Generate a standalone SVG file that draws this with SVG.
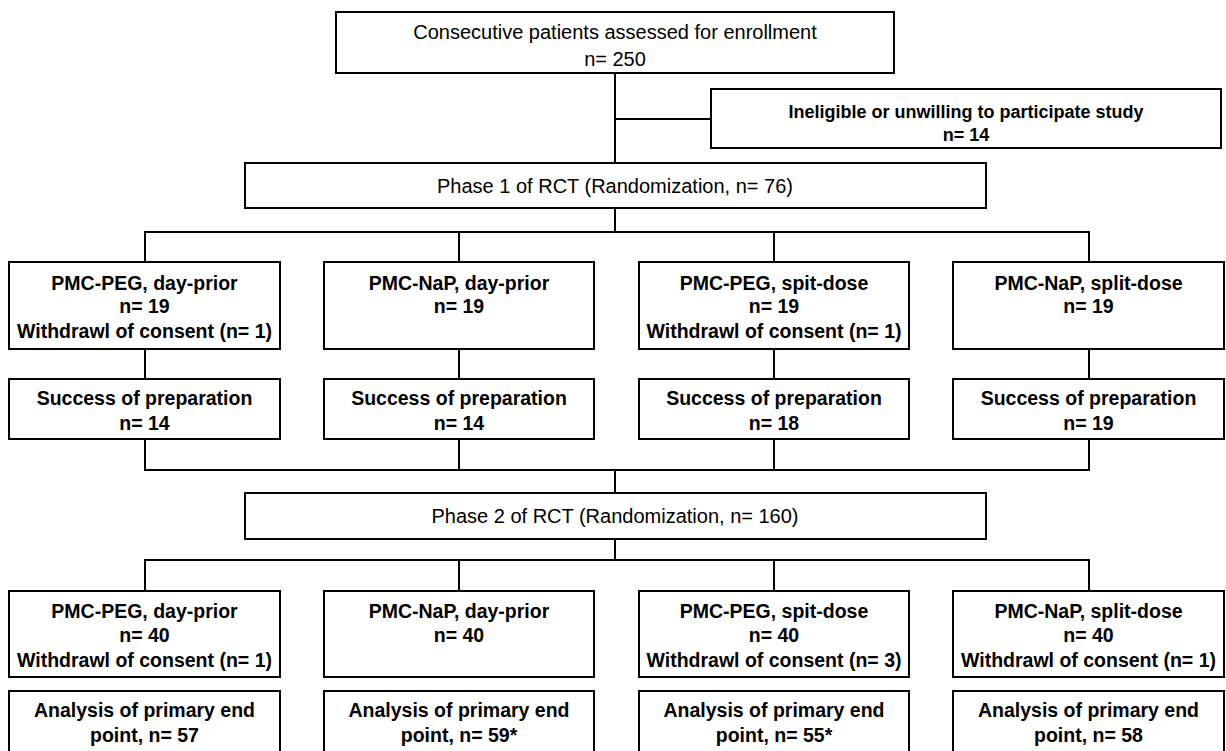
<svg xmlns="http://www.w3.org/2000/svg" width="1226" height="751" viewBox="0 0 1226 751">
<style>
  .box { fill: #fff; stroke: #000; stroke-width: 2; }
  .ln { fill: none; stroke: #000; stroke-width: 2; }
  text { font-family: "Liberation Sans", Arial, sans-serif; fill: #000; text-anchor: middle; }
  .reg { font-size: 20px; }
  .b18 { font-size: 18px; font-weight: bold; }
  .b { font-size: 19.5px; font-weight: bold; }
</style>
<rect width="1226" height="751" fill="#fff"/>
<g id="connectors" class="ln">
  <path d="M615 73 V163"/>
  <path d="M615 119 H711"/>
  <path d="M615 208 V232"/>
  <path d="M145 262 V232 H1089 V262"/>
  <path d="M459 232 V262"/>
  <path d="M774 232 V262"/>
  <path d="M145 349 V379"/>
  <path d="M459 349 V379"/>
  <path d="M774 349 V379"/>
  <path d="M1089 349 V379"/>
  <path d="M145 439 V470 H1089 V439"/>
  <path d="M459 439 V470"/>
  <path d="M774 439 V470"/>
  <path d="M615 470 V493"/>
  <path d="M615 539 V560"/>
  <path d="M145 591 V560 H1089 V591"/>
  <path d="M459 560 V591"/>
  <path d="M774 560 V591"/>
</g>
<g id="assessed">
  <rect class="box" x="336" y="12" width="558" height="61"/>
  <text class="reg" x="615" y="39">Consecutive patients assessed for enrollment</text>
  <text class="reg" x="615" y="66">n= 250</text>
</g>
<g id="ineligible">
  <rect class="box" x="711" y="89" width="510" height="59"/>
  <text class="b18" x="966" y="118">Ineligible or unwilling to participate study</text>
  <text class="b18" x="966" y="141">n= 14</text>
</g>
<g id="phase1">
  <rect class="box" x="245" y="163" width="741" height="45"/>
  <text class="reg" x="615" y="193">Phase 1 of RCT (Randomization, n= 76)</text>
</g>
<g id="p1-peg-dayprior">
  <rect class="box" x="9" y="262" width="271" height="87"/>
  <text class="b" x="144.5" y="290">PMC-PEG, day-prior</text>
  <text class="b" x="144.5" y="313">n= 19</text>
  <text class="b" x="144.5" y="338">Withdrawl of consent (n= 1)</text>
</g>
<g id="p1-nap-dayprior">
  <rect class="box" x="324" y="262" width="270" height="87"/>
  <text class="b" x="459" y="290">PMC-NaP, day-prior</text>
  <text class="b" x="459" y="313">n= 19</text>
</g>
<g id="p1-peg-split">
  <rect class="box" x="639" y="262" width="270" height="87"/>
  <text class="b" x="774" y="290">PMC-PEG, spit-dose</text>
  <text class="b" x="774" y="313">n= 19</text>
  <text class="b" x="774" y="338">Withdrawl of consent (n= 1)</text>
</g>
<g id="p1-nap-split">
  <rect class="box" x="953" y="262" width="271" height="87"/>
  <text class="b" x="1088.5" y="290">PMC-NaP, split-dose</text>
  <text class="b" x="1088.5" y="313">n= 19</text>
</g>
<g id="success1">
  <rect class="box" x="9" y="379" width="271" height="60"/>
  <text class="b" x="144.5" y="405">Success of preparation</text>
  <text class="b" x="144.5" y="430">n= 14</text>
</g>
<g id="success2">
  <rect class="box" x="324" y="379" width="270" height="60"/>
  <text class="b" x="459" y="405">Success of preparation</text>
  <text class="b" x="459" y="430">n= 14</text>
</g>
<g id="success3">
  <rect class="box" x="639" y="379" width="270" height="60"/>
  <text class="b" x="774" y="405">Success of preparation</text>
  <text class="b" x="774" y="430">n= 18</text>
</g>
<g id="success4">
  <rect class="box" x="953" y="379" width="271" height="60"/>
  <text class="b" x="1088.5" y="405">Success of preparation</text>
  <text class="b" x="1088.5" y="430">n= 19</text>
</g>
<g id="phase2">
  <rect class="box" x="245" y="493" width="741" height="46"/>
  <text class="reg" x="615" y="523">Phase 2 of RCT (Randomization, n= 160)</text>
</g>
<g id="p2-peg-dayprior">
  <rect class="box" x="9" y="591" width="271" height="86"/>
  <text class="b" x="144.5" y="618">PMC-PEG, day-prior</text>
  <text class="b" x="144.5" y="642">n= 40</text>
  <text class="b" x="144.5" y="667">Withdrawl of consent (n= 1)</text>
</g>
<g id="p2-nap-dayprior">
  <rect class="box" x="324" y="591" width="270" height="86"/>
  <text class="b" x="459" y="618">PMC-NaP, day-prior</text>
  <text class="b" x="459" y="642">n= 40</text>
</g>
<g id="p2-peg-split">
  <rect class="box" x="639" y="591" width="270" height="86"/>
  <text class="b" x="774" y="618">PMC-PEG, spit-dose</text>
  <text class="b" x="774" y="642">n= 40</text>
  <text class="b" x="774" y="667">Withdrawl of consent (n= 3)</text>
</g>
<g id="p2-nap-split">
  <rect class="box" x="953" y="591" width="271" height="86"/>
  <text class="b" x="1088.5" y="618">PMC-NaP, split-dose</text>
  <text class="b" x="1088.5" y="642">n= 40</text>
  <text class="b" x="1088.5" y="667">Withdrawl of consent (n= 1)</text>
</g>
<g id="analysis1">
  <rect class="box" x="9" y="691" width="271" height="72"/>
  <text class="b" x="144.5" y="717">Analysis of primary end</text>
  <text class="b" x="144.5" y="742">point, n= 57</text>
</g>
<g id="analysis2">
  <rect class="box" x="324" y="691" width="270" height="72"/>
  <text class="b" x="459" y="717">Analysis of primary end</text>
  <text class="b" x="459" y="742">point, n= 59*</text>
</g>
<g id="analysis3">
  <rect class="box" x="639" y="691" width="270" height="72"/>
  <text class="b" x="774" y="717">Analysis of primary end</text>
  <text class="b" x="774" y="742">point, n= 55*</text>
</g>
<g id="analysis4">
  <rect class="box" x="953" y="691" width="271" height="72"/>
  <text class="b" x="1088.5" y="717">Analysis of primary end</text>
  <text class="b" x="1088.5" y="742">point, n= 58</text>
</g>
</svg>
